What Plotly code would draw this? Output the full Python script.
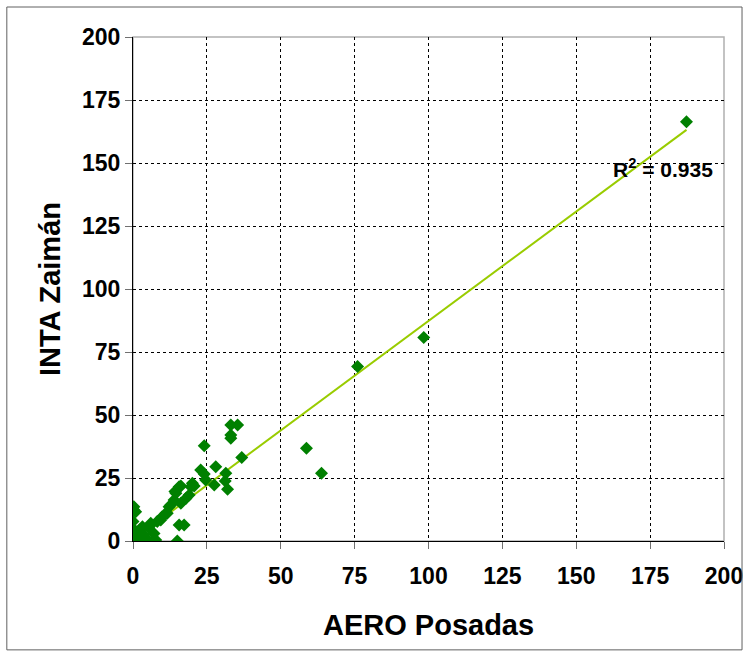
import numpy as np
import plotly.graph_objects as go

aero_posadas = [
    0.3, 0.9, 0.3, 0.0, 0.0, 0.0, 1.1, 3.2, 2.0, 3.7, 4.3, 1.5, 0.3, 2.6, 0.8, 4.8,
    6.0, 6.5, 7.7, 7.1, 9.4, 8.2, 6.0, 11.6, 12.8, 11.1, 12.2, 14.5, 15.6, 13.9, 16.2, 17.9,
    19.0, 19.6, 15.6, 17.3, 15.0, 14.2, 20.1, 20.7, 16.2, 22.9, 24.1, 24.6, 28.0, 27.5,
    31.4, 31.2, 32.0, 33.1, 33.1, 33.1, 35.4, 36.8, 24.1, 58.7, 63.8, 76.0, 98.4, 187.3,
    2.3, 5.2, 9.8,
]
inta_zaiman = [
    13.6, 11.6, 12.3, 7.7, 5.0, 3.3, 2.6, 5.7, 3.7, 2.4, 1.1, 0.4, 0.4, 0.1, 1.5, 0.5,
    7.0, 0.0, 0.4, 3.0, 8.3, 7.7, 6.3, 11.0, 14.3, 11.0, 13.6, 18.9, 21.5, 16.3, 15.0, 16.9,
    18.3, 21.5, 6.3, 6.3, 0.0, 19.6, 22.9, 21.8, 21.8, 28.2, 26.6, 24.2, 29.5, 22.2,
    26.9, 23.8, 20.5, 46.0, 42.1, 40.8, 46.0, 33.1, 37.8, 36.8, 26.9, 69.2, 80.8, 166.4,
    4.5, 5.5, 9.5,
]
# trend line as drawn in the reference
trend_slope = 0.869
trend_intercept = 0.4
r2_label = "0.935"
x_title = "AERO Posadas"
y_title = "INTA Zaimán"
tick_values = [0, 25, 50, 75, 100, 125, 150, 175, 200]

x = np.array(aero_posadas)
y = np.array(inta_zaiman)
x_fit = np.array([0.0, x.max()])
y_fit = trend_slope * x_fit + trend_intercept

font_family = "Liberation Sans, Arial, sans-serif"

fig = go.Figure()
fig.add_trace(go.Scatter(
    x=x_fit, y=y_fit, mode="lines",
    line=dict(color="#99CC00", width=2), hoverinfo="skip", showlegend=False,
))
fig.add_trace(go.Scatter(
    x=x, y=y, mode="markers",
    marker=dict(symbol="diamond", color="#008000", size=10, line=dict(width=0)),
    showlegend=False,
))

axis_common = dict(
    range=[0, 200], tickvals=tick_values, showgrid=True,
    gridcolor="black", griddash="dot", gridwidth=1,
    showline=True, linecolor="black", linewidth=1,
    ticks="outside", ticklen=7, tickcolor="#707070",
    zeroline=False, mirror=False, automargin=False,
    tickfont=dict(family=font_family, size=23, color="black", weight="bold"),
)

fig.update_layout(
    width=745, height=655,
    margin=dict(l=133, r=21, t=37, b=114, autoexpand=False),
    paper_bgcolor="white", plot_bgcolor="white",
    font=dict(family=font_family, color="black"),
    xaxis=dict(**axis_common, ticklabelstandoff=7),
    yaxis=dict(**axis_common),
    shapes=[
        dict(type="rect", xref="paper", yref="paper",
             x0=0, x1=1, y0=0, y1=1, line=dict(color="#B0B0B0", width=1.5), layer="below"),
        dict(type="rect", xref="paper", yref="paper",
             x0=-0.2135, x1=1.0305, y0=-0.216, y1=1.0595,
             line=dict(color="#606060", width=1)),
    ],
    annotations=[
        dict(x=179.4, y=148, xref="x", yref="y", text="R<sup>2</sup> = " + r2_label,
             showarrow=False, xanchor="center", yanchor="middle",
             font=dict(family=font_family, size=21, color="black", weight="bold")),
        dict(x=0.5, y=-0.1667, xref="paper", yref="paper", text=x_title,
             showarrow=False, xanchor="center", yanchor="middle",
             font=dict(family=font_family, size=29, color="black", weight="bold")),
        dict(x=-0.1404, y=0.5, xref="paper", yref="paper", text=y_title,
             showarrow=False, xanchor="center", yanchor="middle", textangle=-90,
             font=dict(family=font_family, size=29, color="black", weight="bold")),
    ],
)

fig.write_html("out.html", config={"displayModeBar": False},
               post_script="document.body.style.margin='0';document.body.style.overflow='hidden';")
